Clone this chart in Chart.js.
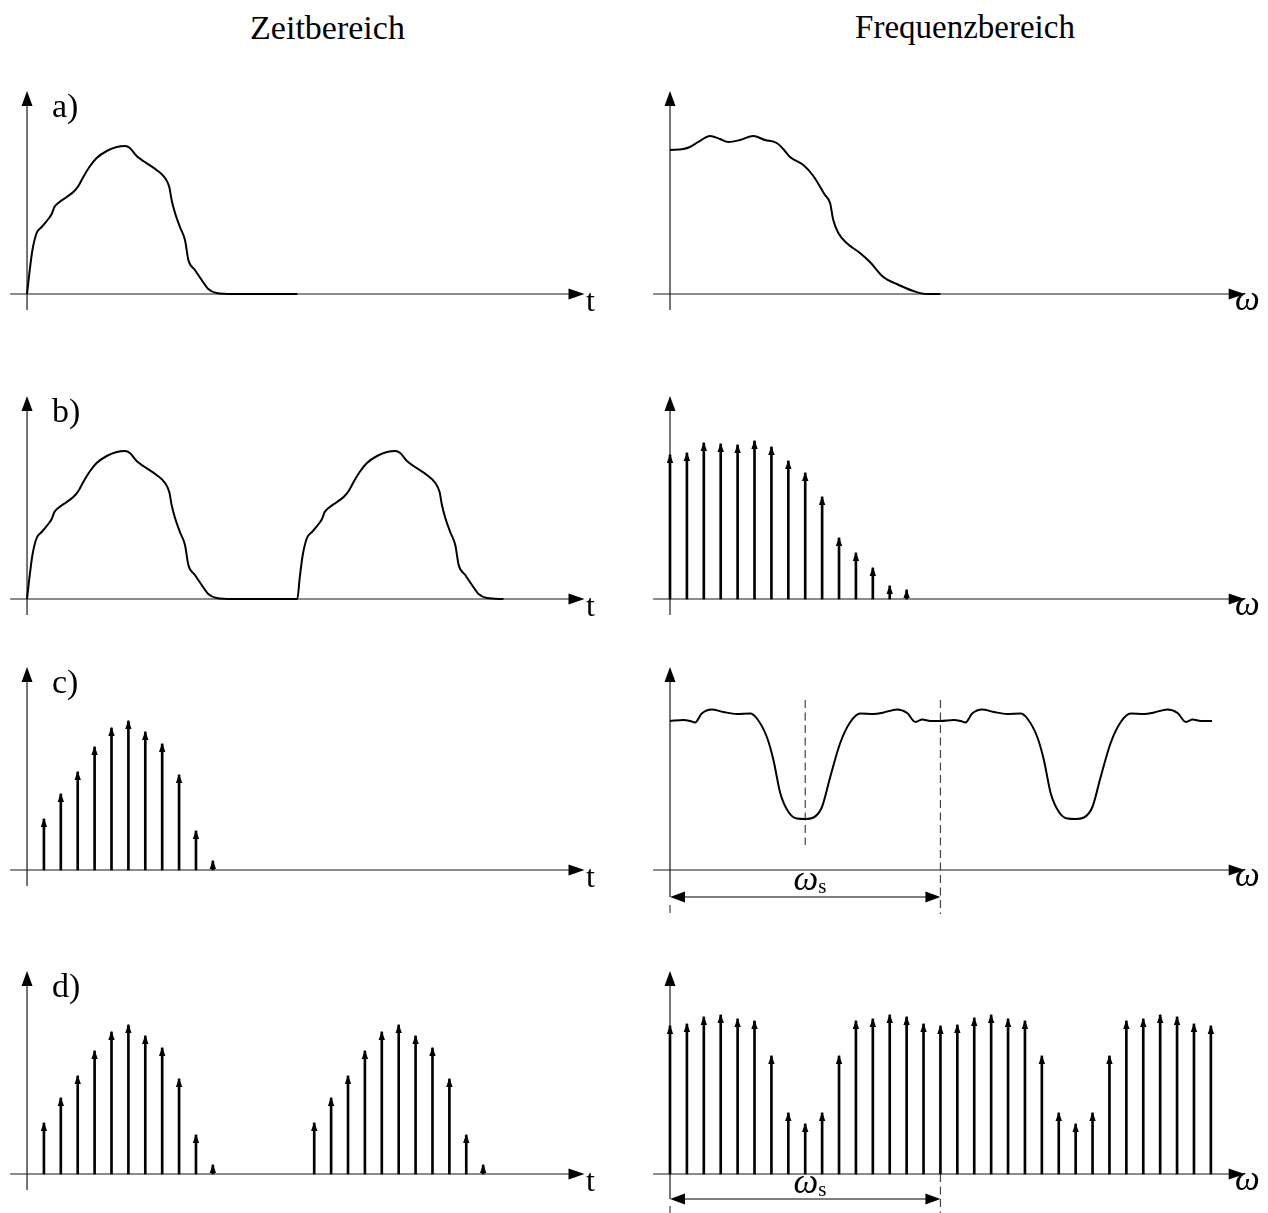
<!DOCTYPE html>
<html lang="de">
<head>
<meta charset="utf-8">
<title>Abtastung im Zeit- und Frequenzbereich</title>
<script src="https://cdn.jsdelivr.net/npm/chart.js@4.4.1/dist/chart.umd.min.js"></script>
<style>
  html, body { margin: 0; padding: 0; background: #fff; }
  #blatt { position: relative; width: 1268px; height: 1213px; overflow: hidden;
           font-family: "Liberation Serif", "DejaVu Serif", serif; color: #000; }
  #blatt canvas { position: absolute; }
  .txt { position: absolute; white-space: nowrap; }
</style>
</head>
<body>
<div id="blatt"></div>
<script>
// Zeitachse in Abtastintervallen T, Frequenzachse in Einheiten von ws/16

// a) Einzelimpuls x(t)
const zeitA_t = [0, 0.14, 0.32, 0.57, 0.87, 1.26, 1.46, 1.62, 1.85, 2.35, 2.74, 3.04, 3.33, 3.69, 4.12,
                 4.72, 5.31, 5.80, 6.09, 6.49, 6.88, 7.67, 8.17, 8.42, 8.56, 8.76, 9.05, 9.35, 9.55, 9.94,
                 10.34, 10.73, 11.22, 12.2, 16];
const zeitA_x = [0, 21, 44, 61, 67, 75, 80, 87, 91, 97, 102, 108, 117, 127, 136,
                 143, 147, 148, 146, 138, 133, 124, 116, 107, 94, 81, 67, 54, 34, 24,
                 14, 5, 1, 0, 0];

// a) Betragsspektrum |X(w)|
const freqA_w = [0, 0.79, 1.18, 1.67, 2.37, 2.96, 3.45, 4.14, 4.93, 5.62, 6.31, 6.70, 7.10, 7.89, 8.48,
                 9.17, 9.47, 9.66, 9.96, 10.45, 11.24, 11.83, 12.62, 13.41, 14.40, 15.19, 16];
const freqA_X = [144, 145, 147, 152, 158, 155, 152, 154, 158, 154, 151, 145, 137, 129, 118,
                 99, 91, 74, 61, 51, 41, 32, 17, 10, 3, 0, 0];

// b) periodisch fortgesetzter Impuls (Periode 16 T)
const zeitB_t = [0, 0.14, 0.32, 0.57, 0.87, 1.26, 1.46, 1.62, 1.85, 2.35, 2.74, 3.04, 3.33, 3.69, 4.12,
                 4.72, 5.31, 5.80, 6.09, 6.49, 6.88, 7.67, 8.17, 8.42, 8.56, 8.76, 9.05, 9.35, 9.55, 9.94,
                 10.34, 10.73, 11.22, 12.2, 16,
                 16.14, 16.32, 16.57, 16.87, 17.26, 17.46, 17.62, 17.85, 18.35, 18.74, 19.04, 19.33, 19.69, 20.12,
                 20.72, 21.31, 21.80, 22.09, 22.49, 22.88, 23.67, 24.17, 24.42, 24.56, 24.76, 25.05, 25.35, 25.55,
                 25.94, 26.34, 26.73, 27.22, 28.2];
const zeitB_x = [0, 21, 44, 61, 67, 75, 80, 87, 91, 97, 102, 108, 117, 127, 136,
                 143, 147, 148, 146, 138, 133, 124, 116, 107, 94, 81, 67, 54, 34, 24,
                 14, 5, 1, 0, 0,
                 21, 44, 61, 67, 75, 80, 87, 91, 97, 102, 108, 117, 127, 136,
                 143, 147, 148, 146, 138, 133, 124, 116, 107, 94, 81, 67, 54, 34,
                 24, 14, 5, 1, 0];

// b) Linienspektrum
const freqB_w = [0, 1, 2, 3, 4, 5, 6, 7, 8, 9, 10, 11, 12, 13, 14];
const freqB_X = [144, 146, 156, 155, 154, 158, 152, 138, 126, 102, 61, 46, 31, 13, 9];

// c) abgetasteter Impuls
const zeitC_n = [1, 2, 3, 4, 5, 6, 7, 8, 9, 10, 11];
const zeitC_x = [51, 76, 98, 123, 142, 149, 138, 126, 95, 39, 9];

// c) periodisch wiederholtes Spektrum (Periode ws)
const freqC_w = [0, 0.79, 1.19, 1.48, 1.88, 2.47, 3.16, 3.95, 4.74, 5.14, 5.73, 6.12, 6.52, 7.01, 7.51,
                 8.0, 8.49, 8.99, 9.48, 10.07, 10.67, 11.26, 12.05, 12.64, 13.43, 14.03, 14.52, 14.92, 15.41, 16,
                 16.79, 17.19, 17.48, 17.88, 18.47, 19.16, 19.95, 20.74, 21.14, 21.73, 22.12, 22.52, 23.01, 23.51,
                 24.0, 24.49, 24.99, 25.48, 26.07, 26.67, 27.26, 28.05, 28.64, 29.43, 30.03, 30.52, 30.92, 31.41, 32.07];
const freqC_X = [149, 150, 149, 147.5, 156.5, 160.5, 158, 156, 156.5, 151.5, 133, 110, 77, 58, 51.5,
                 51, 52.5, 63, 93, 127, 148, 156.5, 156, 157.5, 160.5, 157, 148, 150.5, 149, 149,
                 150, 149, 147.5, 156.5, 160.5, 158, 156, 156.5, 151.5, 133, 110, 77, 58, 51.5,
                 51, 52.5, 63, 93, 127, 148, 156.5, 156, 157.5, 160.5, 157, 148, 150.5, 149, 149];

// d) abgetastete periodische Folge
const zeitD_n = [1, 2, 3, 4, 5, 6, 7, 8, 9, 10, 11, 17, 18, 19, 20, 21, 22, 23, 24, 25, 26, 27];
const zeitD_x = [51, 76, 98, 123, 142, 149, 138, 126, 95, 39, 9, 51, 76, 98, 123, 142, 149, 138, 126, 95, 39, 9];

// d) periodisches Linienspektrum
const freqD_w = [0, 1, 2, 3, 4, 5, 6, 7, 8, 9, 10, 11, 12, 13, 14, 15, 16,
                 17, 18, 19, 20, 21, 22, 23, 24, 25, 26, 27, 28, 29, 30, 31, 32];
const freqD_X = [148, 150, 157, 159, 155, 153, 118, 61, 50, 61, 118, 153, 155, 159, 157, 150, 148,
                 149, 156, 159, 155, 153, 118, 61, 50, 61, 118, 153, 155, 159, 157, 150, 148];

// --- Aufbau ------------------------------------------------------------
const blatt = document.getElementById('blatt');
const ACHSE_Y = [294, 599, 870, 1174];
const SPALTEN = [
  { links: 0,   breite: 620, min: -1.6,   max: 35.1,  pfeil: 33 },
  { links: 640, breite: 628, min: -1.775, max: 35.38, pfeil: 34 }
];

function pfeilspitze(ctx, x, y, richtung, laenge, halb) {
  ctx.beginPath();
  ctx.moveTo(x, y);
  if (richtung === 'oben') {
    ctx.lineTo(x - halb, y + laenge); ctx.lineTo(x + halb, y + laenge);
  } else if (richtung === 'rechts') {
    ctx.lineTo(x - laenge, y - halb); ctx.lineTo(x - laenge, y + halb);
  } else {
    ctx.lineTo(x + laenge, y - halb); ctx.lineTo(x + laenge, y + halb);
  }
  ctx.closePath();
  ctx.fill();
}

function strecke(ctx, x1, y1, x2, y2) {
  ctx.beginPath(); ctx.moveTo(x1, y1); ctx.lineTo(x2, y2); ctx.stroke();
}

// Achsen mit Pfeilen, Hilfslinien und ws-Bemassung
const achsenPlugin = {
  id: 'achsen',
  beforeDatasetsDraw(chart, args, o) {
    const ctx = chart.ctx;
    const px = v => chart.scales.x.getPixelForValue(v);
    const py = v => chart.scales.y.getPixelForValue(v);
    ctx.save();
    ctx.fillStyle = '#000';
    ctx.strokeStyle = '#1a1a1a';
    ctx.lineWidth = 1.2;
    strecke(ctx, px(-1), py(0), px(o.xEnde) - 10, py(0));
    pfeilspitze(ctx, px(o.xEnde), py(0), 'rechts', 16, 5.5);
    strecke(ctx, px(0), py(o.yUnten), px(0), py(o.yEnde) + 10);
    pfeilspitze(ctx, px(0), py(o.yEnde), 'oben', 15, 5.5);

    ctx.strokeStyle = '#444';
    ctx.setLineDash([8, 4.5]);
    (o.striche || []).forEach(s => strecke(ctx, px(s.w), py(s.von), px(s.w), py(s.bis)));
    ctx.setLineDash([]);

    if (o.bemassung) {
      const d = o.bemassung;
      ctx.strokeStyle = '#000';
      strecke(ctx, px(d.von) + 10, py(d.y), px(d.bis) - 10, py(d.y));
      pfeilspitze(ctx, px(d.von), py(d.y), 'links', 15, 5.5);
      pfeilspitze(ctx, px(d.bis), py(d.y), 'rechts', 15, 5.5);
    }
    ctx.restore();
  },
  afterDatasetsDraw(chart) {
    // Pfeilspitzen auf den Dirac-Linien
    const ctx = chart.ctx;
    chart.data.datasets.forEach((ds, i) => {
      const meta = chart.getDatasetMeta(i);
      if (meta.type !== 'bar') return;
      ctx.save();
      ctx.fillStyle = '#000';
      meta.data.forEach(el => pfeilspitze(ctx, el.x, el.y - 1, 'oben', 9, 3.2));
      ctx.restore();
    });
  }
};
Chart.register(achsenPlugin);

function panel(spalte, zeile, typ, xs, ys, extra) {
  const sp = SPALTEN[spalte];
  const canvas = document.createElement('canvas');
  canvas.width = sp.breite;
  canvas.height = 280;
  canvas.style.left = sp.links + 'px';
  canvas.style.top = (ACHSE_Y[zeile] - 234) + 'px';
  blatt.appendChild(canvas);

  const datensatz = typ === 'line'
    ? { borderColor: '#000', borderWidth: 2, pointRadius: 0, fill: false, cubicInterpolationMode: 'monotone' }
    : { backgroundColor: '#000', borderWidth: 0, barThickness: 2 };
  datensatz.data = xs.map((x, i) => ({ x: x, y: ys[i] }));

  new Chart(canvas, {
    type: typ,
    data: { datasets: [datensatz] },
    options: {
      responsive: false,
      animation: false,
      devicePixelRatio: 1,
      events: [],
      layout: { padding: 0 },
      scales: {
        x: { type: 'linear', display: false, offset: false, min: sp.min, max: sp.max },
        y: { type: 'linear', display: false, min: -46, max: 234 }
      },
      plugins: {
        legend: { display: false },
        tooltip: { enabled: false },
        achsen: Object.assign({ xEnde: sp.pfeil, yEnde: 203, yUnten: -16 }, extra || {})
      }
    }
  });
}

panel(0, 0, 'line', zeitA_t, zeitA_x);
panel(1, 0, 'line', freqA_w, freqA_X);
panel(0, 1, 'line', zeitB_t, zeitB_x);
panel(1, 1, 'bar',  freqB_w, freqB_X);
panel(0, 2, 'bar',  zeitC_n, zeitC_x);
panel(1, 2, 'line', freqC_w, freqC_X, {
  yUnten: -27,
  striche: [{ w: 8, von: 170, bis: 25 }, { w: 16, von: 170, bis: -44 }, { w: 0, von: -35, bis: -44 }],
  bemassung: { von: 0, bis: 16, y: -27 }
});
panel(0, 3, 'bar',  zeitD_n, zeitD_x);
panel(1, 3, 'bar',  freqD_w, freqD_X, {
  yUnten: -25,
  striche: [{ w: 16, von: 0, bis: -40 }, { w: 0, von: -32, bis: -40 }],
  bemassung: { von: 0, bis: 16, y: -25 }
});

// --- Beschriftung ------------------------------------------------------
function text(teile, x, grundlinie, groesse, mitte) {
  const el = document.createElement('div');
  el.className = 'txt';
  el.style.fontSize = groesse + 'px';
  el.style.lineHeight = groesse + 'px';
  el.style.top = (grundlinie - 0.8375 * groesse) + 'px';
  el.style.left = x + 'px';
  if (mitte) el.style.transform = 'translateX(-50%)';
  teile.forEach(t => {
    const s = document.createElement('span');
    s.textContent = t.s;
    if (t.kursiv) s.style.fontStyle = 'italic';
    if (t.index) { s.style.fontSize = '21px'; s.style.verticalAlign = '-3px'; }
    el.appendChild(s);
  });
  blatt.appendChild(el);
}

text([{ s: 'Zeitbereich' }], 327.5, 39, 34, true);
text([{ s: 'Frequenzbereich' }], 965, 39, 33, true);
['a)', 'b)', 'c)', 'd)'].forEach((s, i) => text([{ s: s }], 52, ACHSE_Y[i] - 177, 34));
ACHSE_Y.forEach(y => {
  text([{ s: 't' }], 586, y + 17, 32);
  text([{ s: 'ω', kursiv: true }], 1235, y + 16, 35);
});
text([{ s: 'ω', kursiv: true }, { s: 's', index: true }], 810, 890, 35, true);
text([{ s: 'ω', kursiv: true }, { s: 's', index: true }], 810, 1193, 35, true);
</script>
</body>
</html>
